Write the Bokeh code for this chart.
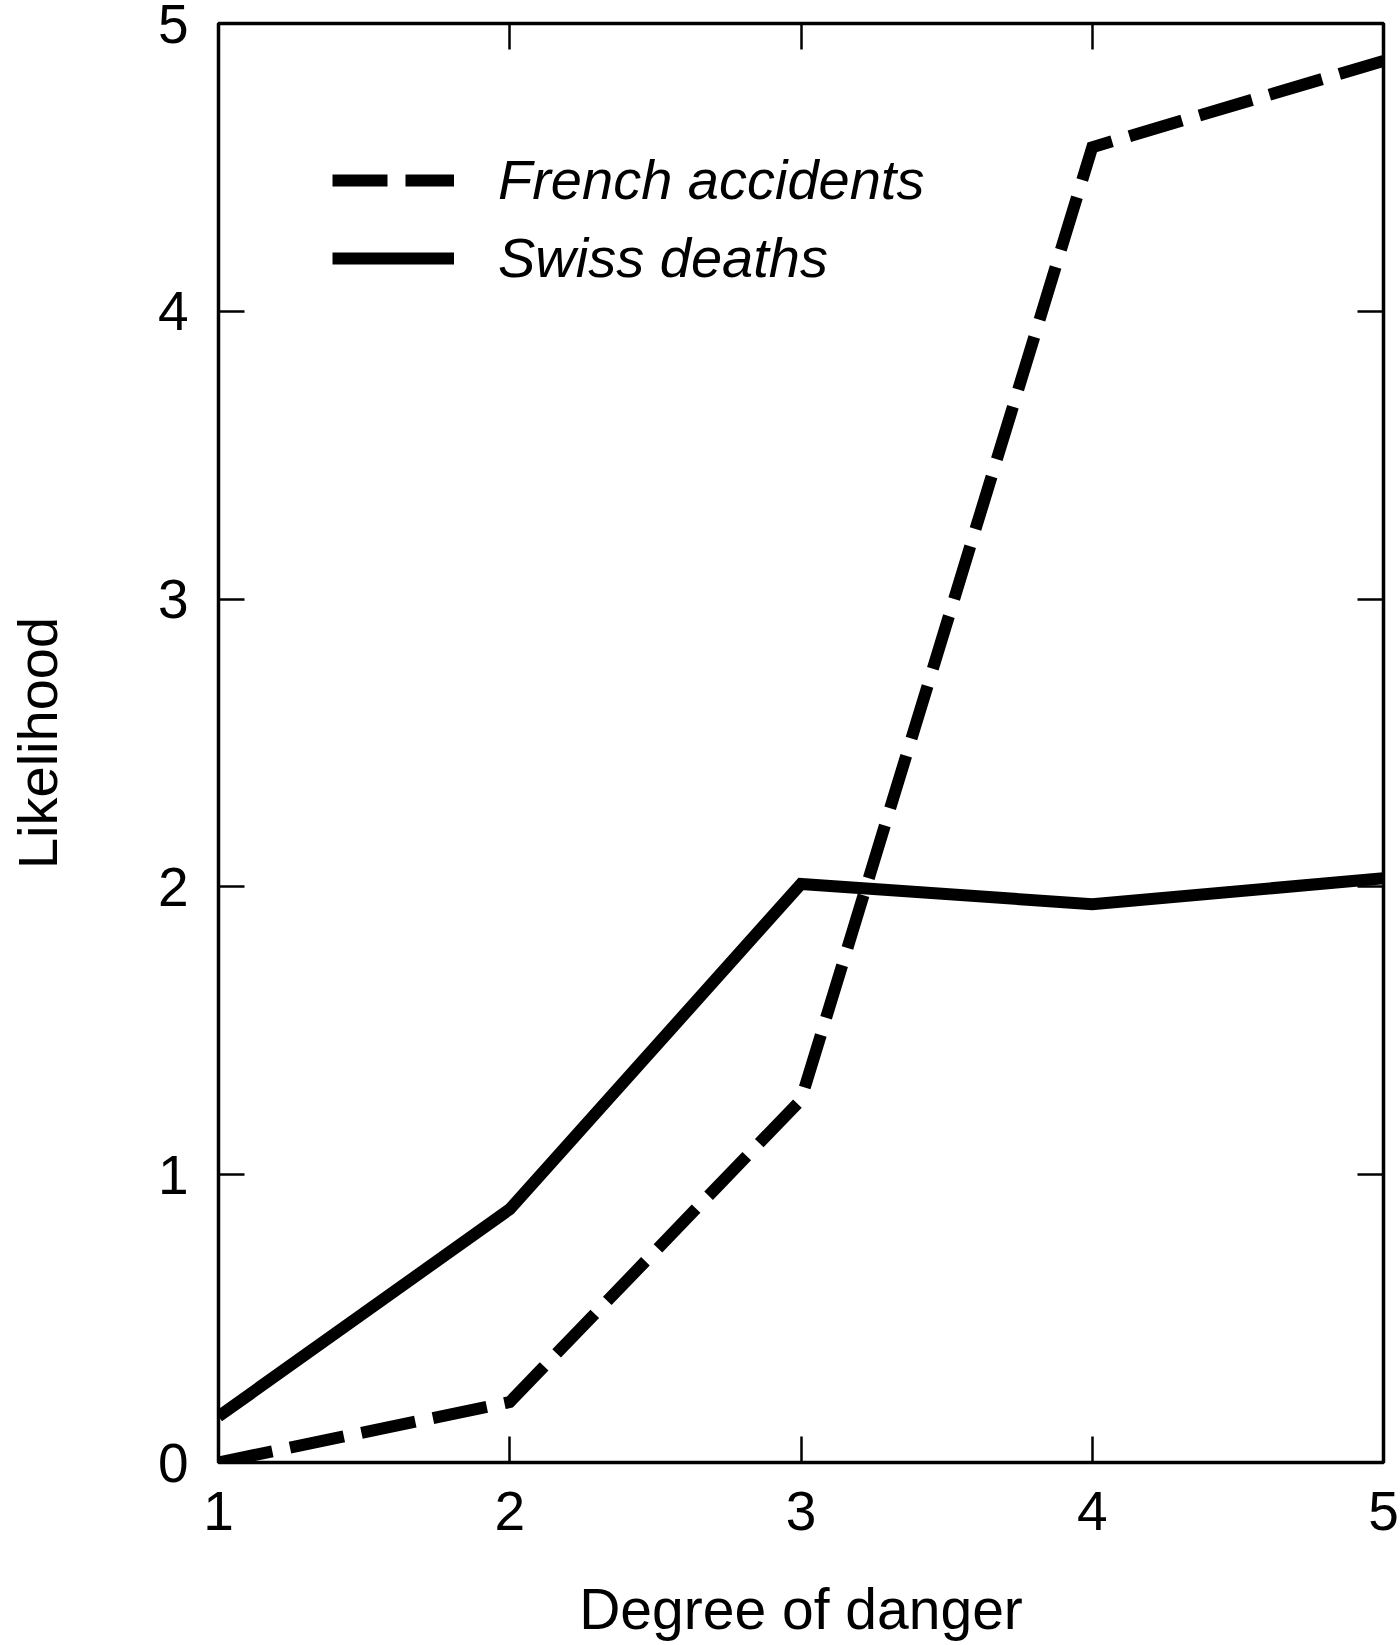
from bokeh.plotting import figure
from bokeh.models import Range1d, LinearAxis, FixedTicker, Legend, LegendItem
from bokeh.embed import file_html
from bokeh.resources import INLINE

degrees = [1, 2, 3, 4, 5]
french_accidents = [0.0, 0.21, 1.26, 4.57, 4.87]
swiss_deaths = [0.16, 0.88, 2.01, 1.94, 2.03]
x_ticks = [1, 2, 3, 4, 5]
y_ticks = [0, 1, 2, 3, 4, 5]
x_label = "Degree of danger"
y_label = "Likelihood"
series_names = ["French accidents", "Swiss deaths"]

FONT = "Liberation Sans"

p = figure(width=1400, height=1645, output_backend="svg", toolbar_location=None,
           x_range=Range1d(1, 5), y_range=Range1d(0, 5),
           x_axis_location=None, y_axis_location=None,
           min_border_left=218, min_border_right=17, min_border_top=23, min_border_bottom=183)
p.xgrid.visible = False
p.ygrid.visible = False
p.outline_line_color = "black"
p.outline_line_width = 3.5
p.background_fill_color = "white"
p.border_fill_color = "white"


def style_axis(ax, ticks, labels=True):
    ax.major_tick_in = 26
    ax.major_tick_out = 0
    ax.minor_tick_in = 0
    ax.minor_tick_out = 0
    ax.major_tick_line_width = 2.5
    ax.major_tick_line_color = "black"
    ax.axis_line_color = None
    if labels:
        ax.major_label_text_font = FONT
        ax.major_label_text_font_size = "55px"
        ax.major_label_text_color = "black"
    else:
        ax.major_label_overrides = {t: "" for t in ticks}
        ax.major_label_standoff = 0


xa = LinearAxis(ticker=FixedTicker(ticks=x_ticks), axis_label=x_label)
style_axis(xa, x_ticks)
xa.major_label_standoff = 29
xa.axis_label_text_font = FONT
xa.axis_label_text_font_size = "57px"
xa.axis_label_text_font_style = "normal"
xa.axis_label_text_color = "black"
xa.axis_label_standoff = 44
p.add_layout(xa, "below")

ya = LinearAxis(ticker=FixedTicker(ticks=y_ticks), axis_label=y_label)
style_axis(ya, y_ticks)
ya.major_label_standoff = 30
ya.axis_label_text_font = FONT
ya.axis_label_text_font_size = "56px"
ya.axis_label_text_font_style = "normal"
ya.axis_label_text_color = "black"
ya.axis_label_standoff = 86
p.add_layout(ya, "left")

xt = LinearAxis(ticker=FixedTicker(ticks=x_ticks))
style_axis(xt, x_ticks, labels=False)
p.add_layout(xt, "above")

yr = LinearAxis(ticker=FixedTicker(ticks=y_ticks))
style_axis(yr, y_ticks, labels=False)
p.add_layout(yr, "right")

r_fr = p.line(degrees, french_accidents, line_color="black", line_width=12,
              line_dash="55 18", line_join="miter")
r_sw = p.line(degrees, swiss_deaths, line_color="black", line_width=12, line_join="miter")

legend = Legend(items=[LegendItem(label=series_names[0], renderers=[r_fr]),
                       LegendItem(label=series_names[1], renderers=[r_sw])],
                location=(114, 1172))
legend.border_line_color = None
legend.background_fill_alpha = 0
legend.label_text_font = FONT
legend.label_text_font_style = "italic"
legend.label_text_font_size = "56px"
legend.label_text_color = "black"
legend.glyph_width = 122
legend.glyph_height = 40
legend.label_standoff = 44
legend.spacing = 13
legend.padding = 0
legend.margin = 0
p.add_layout(legend, "center")

open("out.html", "w").write(file_html(p, INLINE))
